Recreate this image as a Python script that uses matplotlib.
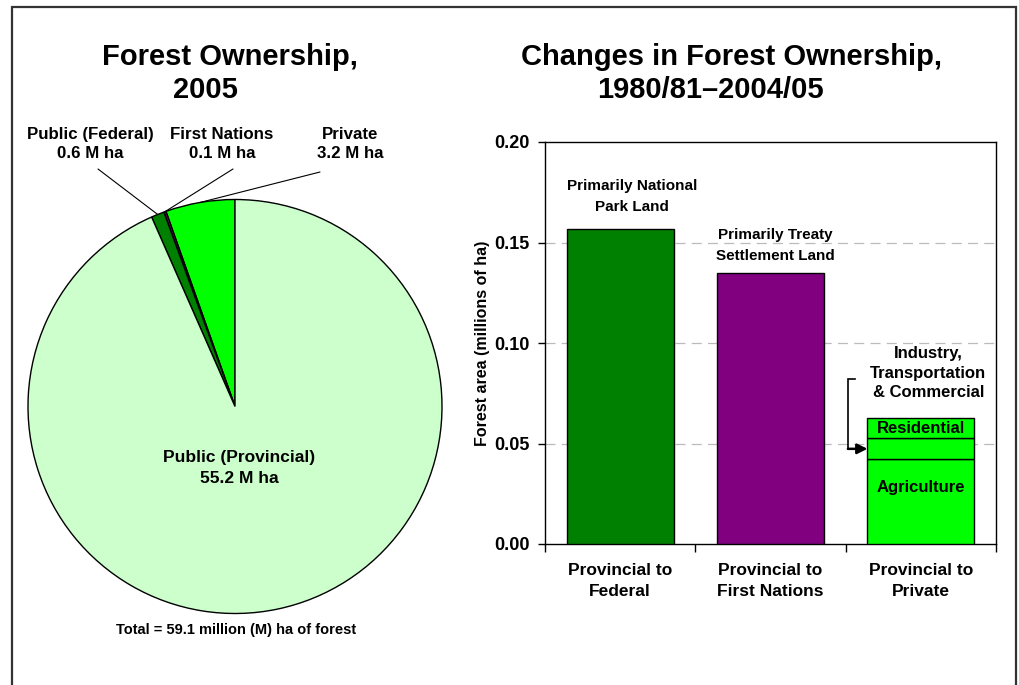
import matplotlib
matplotlib.use("Agg")
import matplotlib.pyplot as plt
from matplotlib.patches import Rectangle
import numpy as np

plt.rcParams['font.family'] = ['Liberation Sans', 'DejaVu Sans']
plt.rcParams['font.weight'] = 'bold'

# ---------------- data ----------------
pie_labels = ["Private", "First Nations", "Public (Federal)", "Public (Provincial)"]
pie_values = [3.2, 0.1, 0.6, 55.2]
pie_colors = ["#00FF00", "#800080", "#008000", "#CCFFCC"]
total_text = "Total = 59.1 million (M) ha of forest"

bar_categories = ["Provincial to\nFederal", "Provincial to\nFirst Nations", "Provincial to\nPrivate"]
federal_change = 0.1567
first_nations_change = 0.1348
private_agriculture = 0.0422
private_industry = 0.0103
private_residential = 0.0104
bar_colors = ["#008000", "#800080", "#00FF00"]
y_ticks = [0.00, 0.05, 0.10, 0.15, 0.20]

W, H = 1020, 685
fig = plt.figure(figsize=(W / 100, H / 100), dpi=100)


def fx(x):
    return x / W


def fy(y):
    return 1 - y / H


def ftext(x, y, s, size, **kw):
    fig.text(fx(x), fy(y), s, fontsize=size, fontweight='bold', ha='center', va='center', **kw)


# figure border
fig.add_artist(Rectangle((fx(12), fy(700)), fx(1016) - fx(12), fy(7) - fy(700),
                         transform=fig.transFigure, fill=False, lw=1.6, ec='#333333'))

# ---------------- pie ----------------
cx, cy, r = 235, 406.5, 207
axp = fig.add_axes([fx(cx - r), fy(cy + r), (2 * r) / W, (2 * r) / H])
wedges, _ = axp.pie(pie_values, colors=pie_colors, startangle=90, counterclock=True,
                    wedgeprops=dict(edgecolor='black', linewidth=1.0), radius=1)
axp.set_xlim(-1, 1)
axp.set_ylim(-1, 1)
axp.set_aspect('equal')
axp.axis('off')

ftext(230, 57, "Forest Ownership,", 21)
ftext(205, 90, "2005", 21)

label_pos = {
    "Public (Federal)": (90, 144, 98, 169),
    "First Nations": (222, 144, 233, 169),
    "Private": (350, 144, 320, 172),
}
value_of = dict(zip(pie_labels, pie_values))
for w, lab in zip(wedges, pie_labels):
    if lab in label_pos:
        tx, ty, lx, ly = label_pos[lab]
        ftext(tx, ty, f"{lab}\n{value_of[lab]:.1f} M ha", 12.2, linespacing=1.3)
        ang = np.deg2rad((w.theta1 + w.theta2) / 2)
        ex, ey = np.cos(ang), np.sin(ang)
        axp.annotate("", xy=(ex, ey), xycoords='data',
                     xytext=(fx(lx), fy(ly)), textcoords='figure fraction',
                     arrowprops=dict(arrowstyle='-', color='black', lw=0.8,
                                     shrinkA=0, shrinkB=0))

ftext(239, 468, f"Public (Provincial)\n{pie_values[3]:.1f} M ha", 12.5, linespacing=1.45)
ftext(236, 630, total_text, 10.5)

# ---------------- bar chart ----------------
left, right, top, bottom = 545, 996, 142, 544
axb = fig.add_axes([fx(left), fy(bottom), (right - left) / W, (bottom - top) / H])
xpos = np.arange(len(bar_categories))
bw = 0.71
axb.bar(xpos[0], federal_change, width=bw, color=bar_colors[0], edgecolor='black', lw=1, zorder=3)
axb.bar(xpos[1], first_nations_change, width=bw, color=bar_colors[1], edgecolor='black', lw=1, zorder=3)
axb.bar(xpos[2], private_agriculture, width=bw, color=bar_colors[2], edgecolor='black', lw=1, zorder=3)
axb.bar(xpos[2], private_industry, bottom=private_agriculture, width=bw, color=bar_colors[2],
        edgecolor='black', lw=1, zorder=3)
axb.bar(xpos[2], private_residential, bottom=private_agriculture + private_industry, width=bw,
        color=bar_colors[2], edgecolor='black', lw=1, zorder=3)

axb.set_xlim(-0.5, 2.5)
axb.set_ylim(0, 0.20)
axb.set_yticks(y_ticks)
axb.set_yticklabels([f"{v:.2f}" for v in y_ticks], fontsize=13, fontweight='bold')
axb.set_xticks([-0.5, 0.5, 1.5, 2.5])
axb.set_xticklabels([])
axb.set_xticks(xpos, minor=True)
axb.set_xticklabels(bar_categories, minor=True, fontsize=12.5, fontweight='bold', linespacing=1.5)
axb.tick_params(axis='x', which='minor', length=0, pad=14)
axb.tick_params(axis='x', which='major', length=6, direction='out', width=1)
axb.tick_params(axis='y', length=5, direction='out', width=1, pad=6)
for yv in y_ticks[1:-1]:
    axb.axhline(yv, color='#BBBBBB', lw=0.9, ls=(0, (8, 5)), zorder=1)
for s in axb.spines.values():
    s.set_linewidth(1.0)
axb.set_ylabel("Forest area (millions of ha)", fontsize=11.5, fontweight='bold', labelpad=3)

ftext(732, 57, "Changes in Forest Ownership,", 21)
ftext(710, 90, "1980/81\u20132004/05", 21)

# annotations
axb.text(xpos[0] + 0.08, federal_change + 0.0075, "Primarily National\nPark Land", ha='center', va='bottom',
         fontsize=11, fontweight='bold', linespacing=1.65)
axb.text(xpos[1] + 0.03, first_nations_change + 0.005, "Primarily Treaty\nSettlement Land", ha='center',
         va='bottom', fontsize=11, fontweight='bold', linespacing=1.65)
priv_total = private_agriculture + private_industry + private_residential
axb.text(xpos[2] + 0.05, priv_total + 0.0085, "Industry,\nTransportation\n& Commercial", ha='center',
         va='bottom', fontsize=12, fontweight='bold', linespacing=1.38)
axb.text(xpos[2], private_agriculture + private_industry + private_residential / 2, "Residential",
         ha='center', va='center', fontsize=12, fontweight='bold', zorder=4)
axb.text(xpos[2], private_agriculture / 2 + 0.007, "Agriculture",
         ha='center', va='center', fontsize=12, fontweight='bold', zorder=4)

# bracket + arrow to industry segment
bx = xpos[2] - bw / 2 - 0.13
by_top = priv_total + 0.0192
target = (xpos[2] - bw / 2, private_agriculture + private_industry / 2)
axb.plot([bx + 0.05, bx, bx], [by_top, by_top, target[1]], color='black', lw=1.2, zorder=5,
         solid_joinstyle='miter')
axb.annotate("", xy=target, xytext=(bx, target[1]),
             arrowprops=dict(arrowstyle='-|>,head_length=0.6,head_width=0.3', color='black', lw=1.8,
                             shrinkA=0, shrinkB=0), zorder=5)

fig.savefig("out.png", dpi=100)
